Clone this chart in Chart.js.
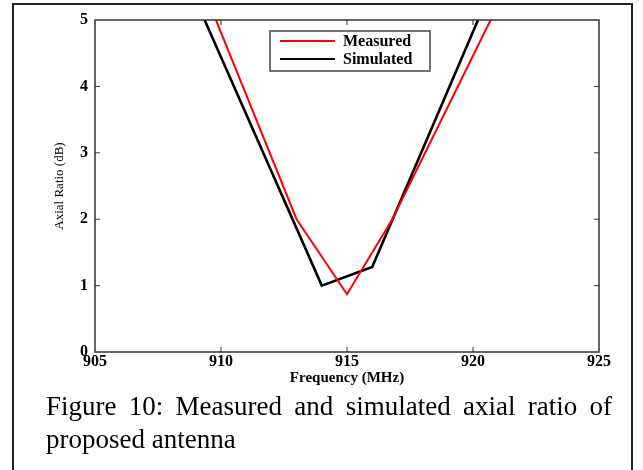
<!DOCTYPE html>
<html>
<head>
<meta charset="utf-8">
<script src="https://cdn.jsdelivr.net/npm/chart.js@4.4.0/dist/chart.umd.min.js"></script>
<style>
  body { margin: 0; background: #fff; }
  #wrap { position: relative; width: 643px; height: 470px; overflow: hidden; background: #fff; }
  #frame { position: absolute; left: 12px; top: 3px; width: 617px; height: 480px; border: 2px solid #222; }
  #chart { position: absolute; left: 0; top: 0; }
  .cap { position: absolute; left: 46px; width: 566px; font-family: "Liberation Serif", serif; font-size: 27px; color: #000; white-space: nowrap; }
  #cap1 { top: 391px; text-align: justify; text-align-last: justify; }
  #cap2 { top: 424px; }
</style>
</head>
<body>
<div id="wrap">
  <div id="frame"></div>
  <canvas id="chart" width="643" height="470"></canvas>
  <div class="cap" id="cap1">Figure 10: Measured and simulated axial ratio of</div>
  <div class="cap" id="cap2">proposed antenna</div>
</div>
<script>
// values
var measuredFreq = [909.8, 913, 915, 916.8, 920.7];
var measuredAR = [5, 2, 0.87, 2, 5];
var simulatedFreq = [909.35, 914, 916, 920.2];
var simulatedAR = [5, 1.0, 1.28, 5];
var xTicks = [905, 910, 915, 920, 925];
var yTicks = [0, 1, 2, 3, 4, 5];
var seriesNames = ["Measured", "Simulated"];
var seriesColors = ["#ff0000", "#000000"];

function toPoints(xs, ys) {
  var pts = [];
  for (var i = 0; i < xs.length; i++) pts.push({ x: xs[i], y: ys[i] });
  return pts;
}

var tickFont = { family: "Liberation Serif", size: 16, weight: "bold" };

// box around the plot with inward tick marks on all sides
var framePlugin = {
  id: "frame",
  afterDatasetsDraw: function (chart) {
    var ctx = chart.ctx, a = chart.chartArea;
    var xs = chart.scales.x, ys = chart.scales.y;
    ctx.save();
    ctx.strokeStyle = "#333";
    ctx.lineWidth = 1.5;
    ctx.strokeRect(a.left, a.top, a.right - a.left, a.bottom - a.top);
    ctx.lineWidth = 1;
    ctx.beginPath();
    for (var i = 1; i < xTicks.length - 1; i++) {
      var px = xs.getPixelForValue(xTicks[i]);
      ctx.moveTo(px, a.bottom); ctx.lineTo(px, a.bottom - 5);
      ctx.moveTo(px, a.top); ctx.lineTo(px, a.top + 5);
    }
    for (var j = 1; j < yTicks.length - 1; j++) {
      var py = ys.getPixelForValue(yTicks[j]);
      ctx.moveTo(a.left, py); ctx.lineTo(a.left + 5, py);
      ctx.moveTo(a.right, py); ctx.lineTo(a.right - 5, py);
    }
    ctx.stroke();
    ctx.restore();
  }
};

// boxed legend inside the plot
var legendPlugin = {
  id: "boxLegend",
  afterDraw: function (chart) {
    var ctx = chart.ctx;
    ctx.save();
    ctx.fillStyle = "#fff";
    ctx.fillRect(270, 31, 160, 40);
    ctx.strokeStyle = "#444";
    ctx.lineWidth = 1.5;
    ctx.strokeRect(270, 31, 160, 40);
    ctx.font = "bold 16px 'Liberation Serif'";
    ctx.textBaseline = "middle";
    chart.data.datasets.forEach(function (ds, k) {
      var y = 41 + k * 18;
      ctx.strokeStyle = ds.borderColor;
      ctx.lineWidth = 2;
      ctx.beginPath();
      ctx.moveTo(280, y); ctx.lineTo(335, y);
      ctx.stroke();
      ctx.fillStyle = "#000";
      ctx.fillText(ds.label, 343, y + 1);
    });
    ctx.restore();
  }
};

new Chart("chart", {
  type: "scatter",
  data: {
    datasets: [{
      label: seriesNames[0],
      data: toPoints(measuredFreq, measuredAR),
      showLine: true,
      borderColor: seriesColors[0],
      backgroundColor: seriesColors[0],
      borderWidth: 2,
      pointRadius: 0
    }, {
      label: seriesNames[1],
      data: toPoints(simulatedFreq, simulatedAR),
      showLine: true,
      borderColor: seriesColors[1],
      backgroundColor: seriesColors[1],
      borderWidth: 2.6,
      pointRadius: 0
    }]
  },
  options: {
    responsive: false,
    animation: false,
    layout: { padding: { left: 52, right: 44, top: 20, bottom: 83 } },
    plugins: { legend: { display: false }, tooltip: { enabled: false } },
    scales: {
      x: {
        type: "linear",
        min: 905,
        max: 925,
        afterBuildTicks: function (s) { s.ticks = xTicks.map(function (v) { return { value: v }; }); },
        ticks: { font: tickFont, color: "#000", padding: 0, maxRotation: 0 },
        grid: { display: false, drawTicks: false },
        border: { display: false },
        title: {
          display: true,
          text: "Frequency (MHz)",
          color: "#000",
          font: { family: "Liberation Serif", size: 15, weight: "bold" },
          padding: 0
        },
        afterFit: function (s) { s.height = 35; }
      },
      y: {
        min: 0,
        max: 5,
        afterBuildTicks: function (s) { s.ticks = yTicks.map(function (v) { return { value: v }; }); },
        ticks: { font: tickFont, color: "#000", padding: 7 },
        grid: { display: false, drawTicks: false },
        border: { display: false },
        title: {
          display: true,
          text: "Axial Ratio (dB)",
          color: "#000",
          font: { family: "Liberation Serif", size: 13 },
          padding: 0
        },
        afterFit: function (s) { s.width = 43; }
      }
    }
  },
  plugins: [framePlugin, legendPlugin]
});
</script>
</body>
</html>
